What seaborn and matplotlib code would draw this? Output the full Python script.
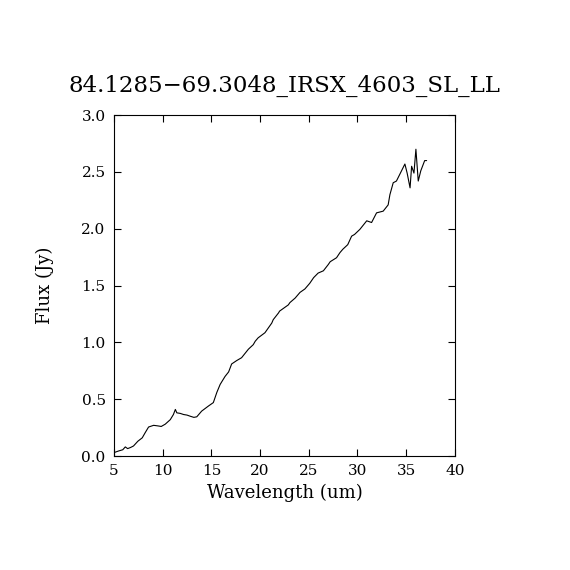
import numpy as np
import pandas as pd
import matplotlib
matplotlib.use('Agg')
import matplotlib.pyplot as plt
import seaborn as sns

sns.set_style('ticks')
plt.rcParams['font.family'] = ['DejaVu Serif']
plt.rcParams['text.color'] = 'black'
plt.rcParams['axes.labelcolor'] = 'black'

title = '84.1285\u221269.3048_IRSX_4603_SL_LL'

wavelength = [5.0, 5.5, 5.9, 6.16, 6.4, 6.7, 7.0, 7.45, 7.9, 8.2, 8.55, 9.07, 9.5, 9.85,
              10.26, 10.78, 11.1, 11.3, 11.45, 11.8, 12.15, 12.5, 12.83, 13.2, 13.5,
              14.0, 14.7, 15.2, 15.56, 15.9, 16.4, 16.77, 17.08, 17.6, 18.1, 18.8,
              19.3, 19.5, 19.8, 20.5, 21.2, 21.35, 21.9, 22.0, 22.9, 23.06, 23.6,
              24.1, 24.6, 25.1, 25.5, 25.96, 26.5, 27.0, 27.2, 27.85, 28.2, 28.5,
              29.0, 29.4, 29.7, 30.25, 30.95, 31.45, 31.96, 32.64, 33.15, 33.33,
              33.67, 34.0, 34.35, 34.87, 35.1, 35.4, 35.56, 35.8, 36.0, 36.24,
              36.5, 36.9, 37.1]
flux = [0.03, 0.045, 0.055, 0.08, 0.065, 0.075, 0.088, 0.13, 0.16, 0.205, 0.255, 0.27,
        0.265, 0.26, 0.28, 0.32, 0.365, 0.41, 0.38, 0.375, 0.365, 0.36, 0.35, 0.34,
        0.345, 0.395, 0.44, 0.47, 0.56, 0.63, 0.70, 0.74, 0.81, 0.84, 0.865, 0.94,
        0.98, 1.01, 1.04, 1.085, 1.17, 1.2, 1.26, 1.275, 1.33, 1.35, 1.39, 1.44,
        1.47, 1.52, 1.57, 1.61, 1.63, 1.685, 1.71, 1.745, 1.79, 1.82, 1.86, 1.935,
        1.95, 1.995, 2.07, 2.055, 2.14, 2.155, 2.21, 2.3, 2.405, 2.42, 2.48, 2.57,
        2.49, 2.36, 2.55, 2.49, 2.70, 2.42, 2.51, 2.60, 2.60]

df = pd.DataFrame({'wavelength': wavelength, 'flux': flux})

fig = plt.figure(figsize=(5.7, 5.7), dpi=100)
ax = fig.add_axes([0.2, 0.2, 0.598, 0.598])
sns.lineplot(data=df, x='wavelength', y='flux', ax=ax, color='black',
             linewidth=0.8, sort=False)

ax.set_xlim(5, 40)
ax.set_ylim(0, 3)
ax.set_xticks(np.arange(5, 41, 5))
ax.set_yticks(np.arange(0, 3.01, 0.5))
ax.set_yticklabels(['%.1f' % v for v in np.arange(0, 3.01, 0.5)])
ax.tick_params(direction='in', length=5, width=0.8, top=True, right=True,
               labelsize=11, pad=6, colors='black')
for s in ax.spines.values():
    s.set_linewidth(0.8)
    s.set_color('black')
ax.set_xlabel('Wavelength (um)', fontsize=13, labelpad=4)
ax.set_ylabel('Flux (Jy)', fontsize=13, labelpad=20)
ax.set_title(title, fontsize=16.5, pad=17)

fig.savefig('out.png', dpi=100, facecolor='white')
